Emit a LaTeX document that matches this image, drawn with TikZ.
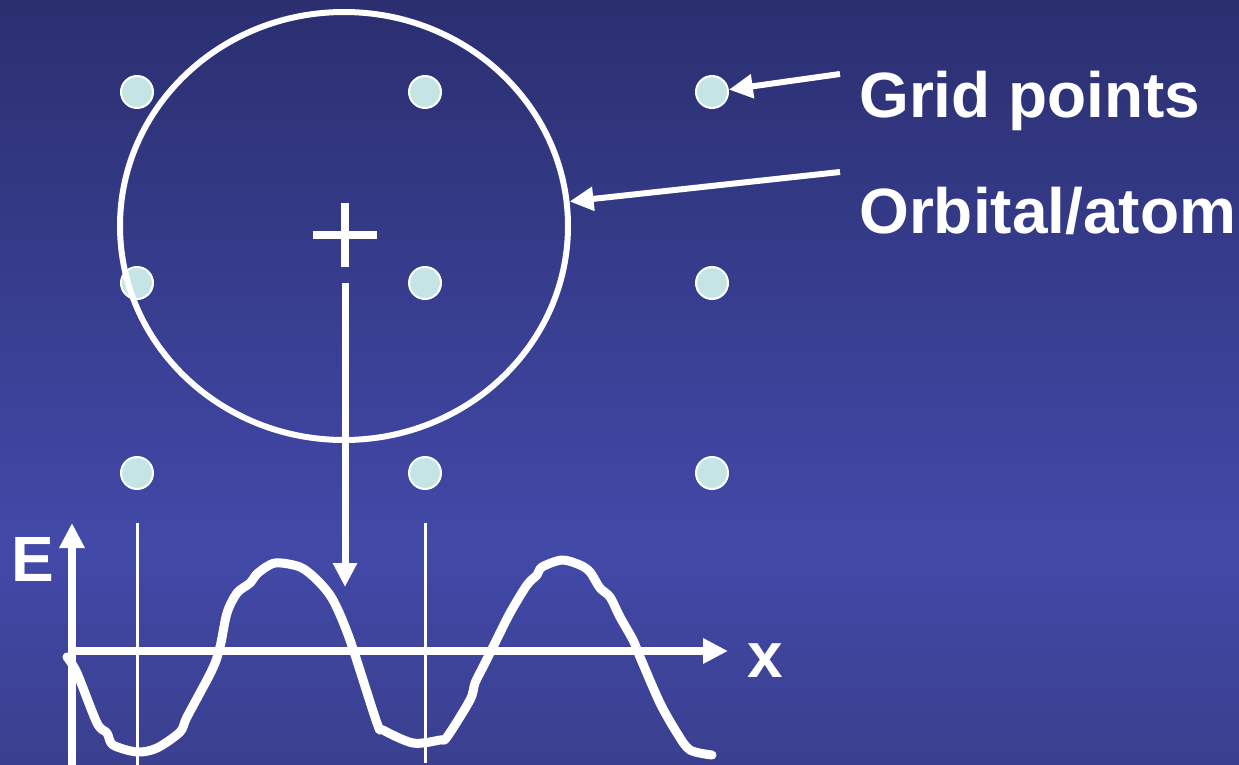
\documentclass[tikz,border=0pt]{standalone}
\usepackage{fontspec}
\setmainfont{Liberation Sans}
\usetikzlibrary{arrows.meta,shapes.geometric}
\definecolor{bgtop}{HTML}{2B2F70}
\definecolor{bgmid}{HTML}{4249A8}
\definecolor{bgbot}{HTML}{3A3F8E}
\definecolor{dotfill}{HTML}{C4E4E6}
\tikzset{
  gdot/.style={circle,minimum size=32pt,inner sep=0pt,fill=dotfill,draw=white,line width=2pt},
  lbl/.style={text=white,font=\fontsize{64}{70}\selectfont\bfseries,inner sep=0pt,anchor=base west},
  pointer/.style={draw=white,line width=6pt,-{Triangle[length=24pt,width=23pt]}},
  axis/.style={draw=white,line width=8pt,-{Triangle[length=25pt,width=24pt]}},
  thin/.style={draw=white,line width=3pt},
  wave/.style={draw=white,line width=9pt,line join=round,line cap=round}
}
\begin{document}
\begin{tikzpicture}[x=1pt,y=-1pt]
\useasboundingbox (0,0) rectangle (1239,765);
\shade[top color=bgtop,bottom color=bgmid] (0,0) rectangle (1239,546);
\shade[top color=bgmid,bottom color=bgbot] (0,545) rectangle (1239,765);
% grid points
\node[gdot] (g11) at (137,92) {};
\node[gdot] (g12) at (425,92) {};
\node[gdot] (g13) at (712,92) {};
\node[gdot] (g21) at (137,283) {};
\node[gdot] (g22) at (425,283) {};
\node[gdot] (g23) at (712,283) {};
\node[gdot] (g31) at (137,473) {};
\node[gdot] (g32) at (425,473) {};
\node[gdot] (g33) at (712,473) {};
% orbital
\node[ellipse,draw=white,line width=6pt,minimum width=448pt,minimum height=428pt,inner sep=0pt] (orb) at (344,226) {};
% cross
\draw[white,line width=8pt] (313,235) -- (377,235);
\draw[white,line width=8pt] (345,203) -- (345,267);
% labels
\node[lbl] (lgrid) at (859,118) {Grid points};
\node[lbl] (lorb) at (859,233) {Orbital/atom};
\node[lbl] (lE) at (11,581) {E};
\node[lbl] (lx) at (747,677) {x};
% pointers
\coordinate (pg) at (840,74);
\coordinate (po) at (840,172);
\draw[pointer] (pg) -- (g13);
\draw[pointer] (po) -- (orb);
\coordinate (ds) at (345,283);
\coordinate (de) at (345,587);
\draw[pointer,line width=7pt] (ds) -- (de);
% axes
\coordinate (ey0) at (72,765);
\coordinate (ey1) at (72,523);
\coordinate (ex0) at (68,651);
\coordinate (ex1) at (728,651);
\draw[axis] (ey0) -- (ey1);
\draw[axis] (ex0) -- (ex1);
\coordinate (v1a) at (137,523);
\coordinate (v1b) at (137,765);
\coordinate (v2a) at (425,523);
\coordinate (v2b) at (425,763);
\draw[thin] (v1a) -- (v1b);
\draw[thin] (v2a) -- (v2b);
% wave
\draw[wave] plot[smooth,tension=0.5] coordinates {
(67,657) (77,673) (97,723) (107,733) (113,745) (137,752) (157,748) (180,732)
(187,717) (212,670) (220,647) (227,613) (237,593) (250,583) (258,573) (275,563)
(300,567) (317,580) (333,600) (350,640) (377,723) (383,730) (413,743)
(440,740) (447,737) (470,700) (475,683) (483,667) (493,647) (510,613) (527,585)
(537,575) (542,567) (562,560) (580,565) (590,572) (600,588) (610,597) (620,617)
(633,640) (640,657) (660,703) (677,733) (690,750) (712,755)};
\end{tikzpicture}
\end{document}
